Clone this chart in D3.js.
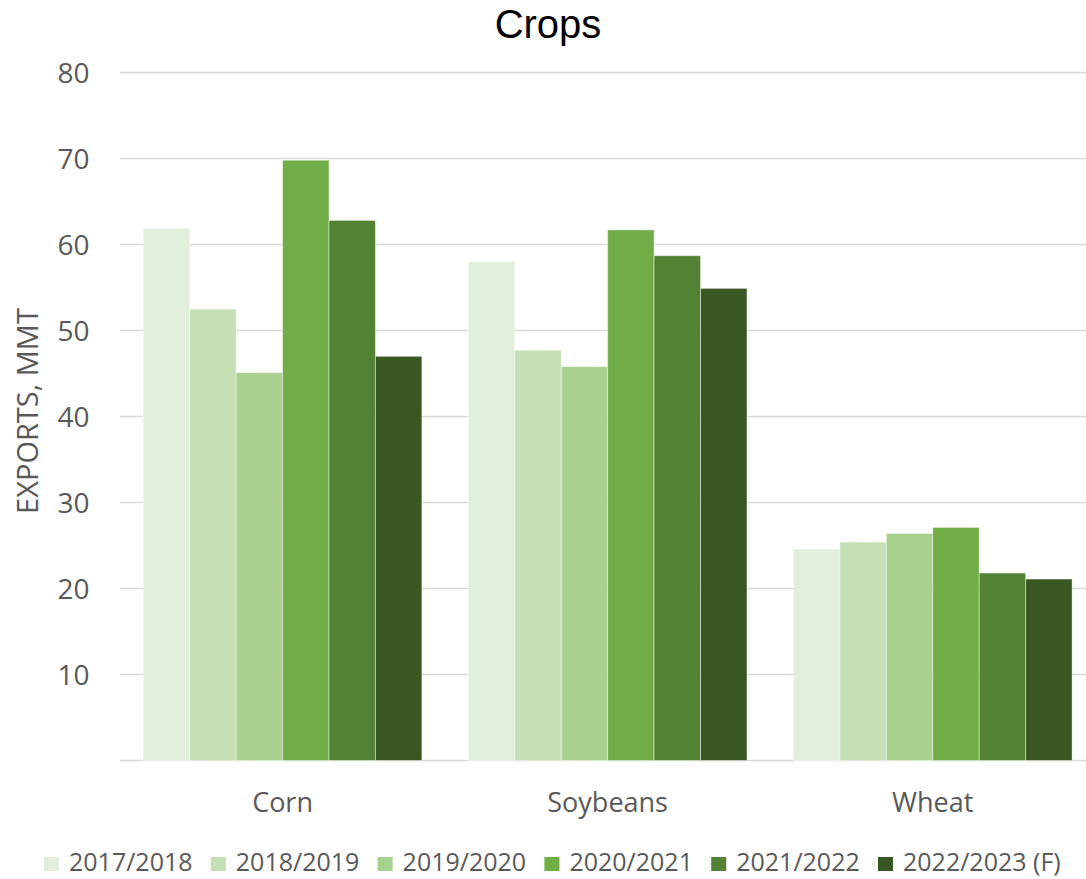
<!DOCTYPE html>
<html>
<head>
<meta charset="utf-8">
<script src="https://cdn.jsdelivr.net/npm/d3@7"></script>
<style>
  html, body { margin: 0; padding: 0; background: #fff; }
  svg { display: block; font-family: "Open Sans", "Noto Sans", sans-serif; }
</style>
</head>
<body>
<svg id="chart" width="1086" height="879"></svg>
<script>
const categories = ["Corn", "Soybeans", "Wheat"];
const seriesNames = ["2017/2018", "2018/2019", "2019/2020", "2020/2021", "2021/2022", "2022/2023 (F)"];
const corn = [61.9, 52.5, 45.1, 69.8, 62.8, 47.0];
const soybeans = [58.0, 47.7, 45.8, 61.7, 58.7, 54.9];
const wheat = [24.6, 25.4, 26.4, 27.1, 21.8, 21.1];
const yTicks = [10, 20, 30, 40, 50, 60, 70, 80];
const colors = ["#E2EFDA", "#C5E0B4", "#A9D18E", "#70AD47", "#548235", "#385723"];
const title = "Crops";
const yTitle = "EXPORTS, MMT";

const values = [corn, soybeans, wheat];
const svg = d3.select("#chart");
const textColor = "#595959";

const x0 = d3.scaleBand().domain(categories).range([120, 1095.3]).paddingInner(0).paddingOuter(0);
const bw = x0.bandwidth();
const x1 = d3.scaleBand().domain(d3.range(seriesNames.length)).range([bw / 14, bw - bw / 14]).padding(0);
const y = d3.scaleLinear().domain([0, 80]).range([760.5, 72.5]);

// gridlines
svg.append("g").selectAll("line").data([0].concat(yTicks)).join("line")
  .attr("x1", 120).attr("x2", 1086)
  .attr("y1", d => y(d)).attr("y2", d => y(d))
  .attr("stroke", "#d9d9d9").attr("stroke-width", 1.6);

// y tick labels
svg.append("g").selectAll("text").data(yTicks).join("text")
  .attr("x", 89.5).attr("y", d => y(d) + 10)
  .attr("text-anchor", "end")
  .attr("font-size", 28).attr("fill", textColor)
  .text(d => d);

// bars
const groups = svg.append("g").selectAll("g").data(categories).join("g")
  .attr("transform", d => `translate(${x0(d)},0)`);
groups.selectAll("rect").data((c, ci) => values[ci].map((v, si) => ({v, si}))).join("rect")
  .attr("x", d => x1(d.si))
  .attr("width", x1.bandwidth())
  .attr("y", d => y(d.v))
  .attr("height", d => y(0) - y(d.v))
  .attr("fill", d => colors[d.si])
  .attr("stroke", "rgba(255,255,255,0.45)")
  .attr("stroke-width", 1);

// category labels
svg.append("g").selectAll("text").data(categories).join("text")
  .attr("x", d => x0(d) + bw / 2).attr("y", 811.5)
  .attr("text-anchor", "middle")
  .attr("font-size", 27).attr("fill", textColor)
  .text(d => d);

// title
svg.append("text").attr("x", 548).attr("y", 37.5)
  .attr("text-anchor", "middle")
  .attr("font-family", "'Liberation Sans', Arial, sans-serif")
  .attr("font-size", 40).attr("fill", "#000")
  .text(title);

// y axis title
svg.append("text")
  .attr("transform", "translate(37.5,411) rotate(-90)")
  .attr("text-anchor", "middle").attr("font-size", 29).attr("fill", textColor)
  .text(yTitle);

// legend
const leg = svg.append("g").selectAll("g").data(seriesNames).join("g")
  .attr("transform", (d, i) => `translate(${44 + i * 166.8},0)`);
leg.append("rect").attr("x", 0).attr("y", 857).attr("width", 15).attr("height", 14)
  .attr("fill", (d, i) => colors[i]);
leg.append("text").attr("x", 25).attr("y", 870.7)
  .attr("font-size", 25).attr("fill", textColor)
  .text(d => d);
</script>
</body>
</html>
